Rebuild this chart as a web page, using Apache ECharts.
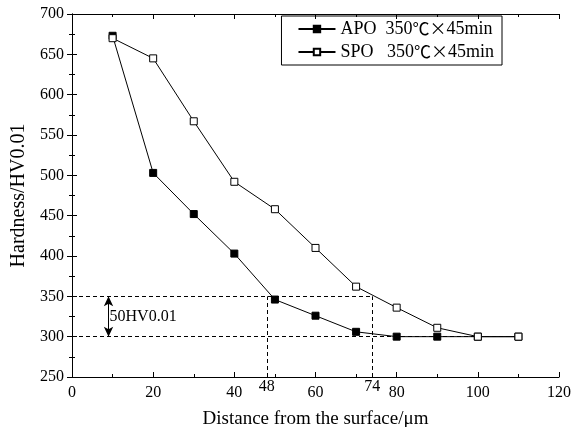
<!DOCTYPE html>
<html><head><meta charset="utf-8">
<script src="https://cdn.jsdelivr.net/npm/echarts@6/dist/echarts.min.js"></script>
<style>html,body{margin:0;padding:0;background:#fff}#c{width:571px;height:427px}</style>
</head><body><div id="c"></div>
<script>
const distances = [10, 20, 30, 40, 50, 60, 70, 80, 90, 100, 110];
const apo = [673, 503, 452, 403, 346, 326, 306, 300, 300, 300, 300];
const spo = [670, 645, 567, 492, 458, 410, 362, 336, 311, 300, 300];
const seriesNames = ['APO  350\u2103\u00d745min', 'SPO   350\u2103\u00d745min'];
const markDepths = [48, 74];
const hvLevels = [300, 350];
const arrowX = 9;
const diffLabel = '50HV0.01';

const font = 'Liberation Serif, Times New Roman, serif';
const chart = echarts.init(document.getElementById('c'));
const toPairs = (xs, ys) => xs.map((x, i) => [x, ys[i]]);
const axisCommon = {
  min: 0, axisLine: {lineStyle: {color: '#000', width: 1}},
  axisTick: {inside: true, length: 5, lineStyle: {color: '#000'}},
  minorTick: {show: true, splitNumber: 2, length: 3, lineStyle: {color: '#000'}},
  splitLine: {show: false}
};
const tickLabel = {color: '#000', fontFamily: font, fontSize: 16};
chart.setOption({
  animation: false,
  textStyle: {fontFamily: font},
  grid: {left: 72, right: 12, top: 14, bottom: 50, containLabel: false, outerBoundsMode: 'none'},
  legend: {
    right: 69, top: 16, orient: 'vertical', itemWidth: 37, itemHeight: 8, itemGap: 5,
    borderColor: '#000', borderWidth: 1, padding: [4, 8, 4, 16],
    formatter: n => n.replace('\u2103\u00d7', '{c|\u2103\u00d7}'),
    textStyle: {fontFamily: font, fontSize: 18, color: '#000',
      rich: {c: {fontFamily: 'Noto Sans CJK SC', fontSize: 17, color: '#000'}}},
    data: seriesNames
  },
  xAxis: [
    Object.assign({}, axisCommon, {
      type: 'value', max: 120, interval: 20, position: 'bottom',
      name: 'Distance from the surface/\u03bcm', nameLocation: 'middle', nameGap: 33,
      nameTextStyle: {fontFamily: font, fontSize: 19, color: '#000'},
      axisLabel: Object.assign({margin: 8}, tickLabel)
    }),
    Object.assign({}, axisCommon, {
      type: 'value', max: 120, interval: 20, position: 'top', axisLabel: {show: false}
    })
  ],
  yAxis: [
    Object.assign({}, axisCommon, {
      type: 'value', min: 250, max: 700, interval: 50, position: 'left',
      name: 'Hardness/HV0.01', nameLocation: 'middle', nameGap: 42,
      nameTextStyle: {fontFamily: font, fontSize: 20, color: '#000'},
      axisLabel: Object.assign({margin: 8}, tickLabel)
    }),
    Object.assign({}, axisCommon, {
      type: 'value', min: 250, max: 700, interval: 50, position: 'right', axisLabel: {show: false}
    })
  ],
  series: [
    {
      name: seriesNames[0], type: 'line', data: toPairs(distances, apo), z: 3,
      symbol: 'rect', symbolSize: 7,
      lineStyle: {color: '#000', width: 1}, itemStyle: {color: '#000', borderColor: '#000', borderWidth: 1},
      markLine: {
        silent: true, symbol: 'none', z: 1,
        lineStyle: {color: '#000', type: [4, 3], width: 1},
        label: {show: false},
        data: [
          [{coord: [0, hvLevels[1]]}, {coord: [markDepths[1], hvLevels[1]]}],
          [{coord: [0, hvLevels[0]]}, {coord: [110, hvLevels[0]]}],
          [{coord: [markDepths[0], 250], label: {show: true, position: 'start', formatter: String(markDepths[0]), color: '#000', fontFamily: font, fontSize: 16, distance: 2}}, {coord: [markDepths[0], hvLevels[1]]}],
          [{coord: [markDepths[1], 250], label: {show: true, position: 'start', formatter: String(markDepths[1]), color: '#000', fontFamily: font, fontSize: 16, distance: 2}}, {coord: [markDepths[1], hvLevels[1]]}]
        ]
      }
    },
    {
      name: seriesNames[1], type: 'line', data: toPairs(distances, spo), z: 4,
      symbol: 'rect', symbolSize: 7,
      lineStyle: {color: '#000', width: 1}, itemStyle: {color: '#fff', borderColor: '#000', borderWidth: 1},
      markLine: {
        silent: true, symbol: ['arrow', 'arrow'], symbolSize: [7, 10],
        lineStyle: {color: '#000', type: 'solid', width: 1},
        label: {show: false},
        data: [[{coord: [arrowX, hvLevels[0]]}, {coord: [arrowX, hvLevels[1]]}]]
      },
      markPoint: {
        silent: true, symbol: 'circle', symbolSize: 0,
        label: {show: true, position: 'right', distance: 1, formatter: diffLabel, color: '#000', fontFamily: font, fontSize: 16},
        data: [{coord: [arrowX, (hvLevels[0] + hvLevels[1]) / 2]}]
      }
    }
  ]
});
</script></body></html>
